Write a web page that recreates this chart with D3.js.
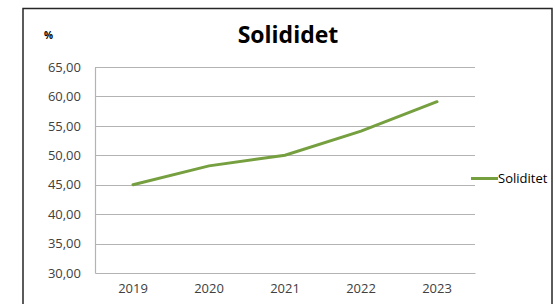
<!DOCTYPE html>
<html>
<head>
<meta charset="utf-8">
<script src="https://cdn.jsdelivr.net/npm/d3@7"></script>
<style>
  body { margin: 0; background: #fff; }
  svg { display: block; font-family: "Open Sans", sans-serif; }
</style>
</head>
<body>
<div class="chart"></div>
<script>
// data
var years = ["2019", "2020", "2021", "2022", "2023"];
var soliditet = [45.0, 48.2, 50.0, 54.1, 59.1];
var yTicks = [30, 35, 40, 45, 50, 55, 60, 65];

var svgWidth = 555;
var svgHeight = 304;

var margin = { top: 67, left: 95, right: 80, bottom: 31 };
var width = svgWidth - margin.left - margin.right;
var height = svgHeight - margin.top - margin.bottom;

var svg = d3.select(".chart")
  .append("svg")
  .attr("width", svgWidth)
  .attr("height", svgHeight);

// outer frame of the chart object
svg.append("rect")
  .attr("x", 23)
  .attr("y", 8.5)
  .attr("width", 529)
  .attr("height", 310)
  .attr("fill", "none")
  .attr("stroke", "#262626")
  .attr("stroke-width", 1.5);

// title + unit label
svg.append("text")
  .attr("x", 288)
  .attr("y", 43)
  .attr("text-anchor", "middle")
  .attr("font-size", 23)
  .attr("font-weight", "bold")
  .attr("fill", "#000")
  .text("Solididet");

svg.append("text")
  .attr("x", 44)
  .attr("y", 39)
  .attr("font-size", 10)
  .attr("font-weight", "bold")
  .attr("fill", "#000")
  .text("%");

var chart = svg.append("g")
  .attr("transform", `translate(${margin.left}, ${margin.top})`);

var x = d3.scaleBand()
  .domain(years)
  .range([0, width]);

var y = d3.scaleLinear()
  .domain([30, 65])
  .range([height, 0]);

// gridlines
chart.append("g")
  .attr("class", "grid")
  .selectAll("line")
  .data(yTicks.slice(1))
  .enter().append("line")
    .attr("x1", 0)
    .attr("x2", width)
    .attr("y1", function(d) { return Math.round(y(d)) + 0.5; })
    .attr("y2", function(d) { return Math.round(y(d)) + 0.5; })
    .attr("stroke", "#b3b3b3")
    .attr("stroke-width", 1.2);

// y axis
var yAxis = chart.append("g")
  .attr("class", "y-axis")
  .call(d3.axisLeft(y)
    .tickValues(yTicks)
    .tickSize(0)
    .tickPadding(14)
    .tickFormat(function(d) { return d3.format(".2f")(d).replace(".", ","); }));
yAxis.select(".domain").attr("stroke", "#b3b3b3").attr("stroke-width", 1.2);
yAxis.selectAll("text")
  .attr("font-size", 13)
  .attr("fill", "#404040")
  .attr("font-family", "Open Sans, sans-serif");

// x axis
var xAxis = chart.append("g")
  .attr("class", "x-axis")
  .attr("transform", "translate(0," + height + ")")
  .call(d3.axisBottom(x).tickSize(0).tickPadding(11));
xAxis.select(".domain").attr("stroke", "#b3b3b3").attr("stroke-width", 1.2);
xAxis.selectAll("text")
  .attr("font-size", 13)
  .attr("fill", "#404040")
  .attr("font-family", "Open Sans, sans-serif");

// the line
var line = d3.line()
  .x(function(d, i) { return x(years[i]) + x.bandwidth() / 2; })
  .y(function(d) { return y(d); });

chart.append("path")
  .datum(soliditet)
  .attr("fill", "none")
  .attr("stroke", "#76A040")
  .attr("stroke-width", 3)
  .attr("stroke-linecap", "round")
  .attr("d", line);

// legend
var legend = svg.append("g")
  .attr("transform", "translate(471, 178.5)");
legend.append("line")
  .attr("x1", 0)
  .attr("x2", 27)
  .attr("stroke", "#76A040")
  .attr("stroke-width", 3);
legend.append("text")
  .attr("x", 27)
  .attr("y", 4.5)
  .attr("font-size", 13)
  .attr("fill", "#000")
  .text("Soliditet");
</script>
</body>
</html>
